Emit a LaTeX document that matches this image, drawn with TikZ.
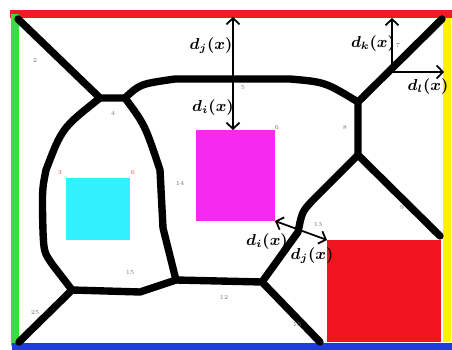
\documentclass[tikz,border=0pt]{standalone}
\usepackage{bm}
\usepackage{tikz}
\usetikzlibrary{arrows.meta,positioning}
\definecolor{wallred}{HTML}{EE1C24}
\definecolor{wallgreen}{HTML}{3CDC3C}
\definecolor{wallyellow}{HTML}{FFF200}
\definecolor{wallblue}{HTML}{1E3CDC}
\definecolor{objcyan}{HTML}{33F0FF}
\definecolor{objmagenta}{HTML}{F52AF0}
\definecolor{objred}{HTML}{F0141E}

\begin{document}
\begin{tikzpicture}[x=0.02cm, y=-0.02cm,
    edge/.style={line width=4.2pt, line join=round, line cap=round},
    wall/.style={line width=4.2pt},
    dist/.style={line width=1pt, >={Straight Barb[length=3.5pt,width=7.5pt]}},
    dlabel/.style={font=\small, inner sep=1pt},
    idx/.style={font=\fontsize{3.5}{4}\selectfont, text=black!55, inner sep=0pt}
]
    \useasboundingbox (0,0) rectangle (452,350);

    % walls of the room
    \draw[wall, wallred] (10,14) -- (452,14);
    \draw[wall, wallgreen] (15,14) -- (15,346);
    \draw[wall, wallyellow] (447,18) -- (447,342);
    \draw[wall, wallblue] (12,347) -- (452,347);

    % obstacles
    \fill[objcyan] (66,178) rectangle (130,240);
    \fill[objmagenta] (196,130) rectangle (275,221);
    \fill[objred] (327,240) rectangle (441,342);

    % voronoi vertices
    \coordinate (tl) at (18,19);
    \coordinate (tr) at (442,19);
    \coordinate (bl) at (19,342);
    \coordinate (br) at (320,342);
    \coordinate (rr) at (440,236);
    \coordinate (a) at (100,98);
    \coordinate (b) at (125,98);
    \coordinate (c) at (358,102);
    \coordinate (d) at (358,155);
    \coordinate (e) at (262,282);
    \coordinate (f) at (176,280);
    \coordinate (g) at (72,290);

    \draw[edge] (tl) -- (a) -- (b);
    \draw[edge] (b) .. controls (140,84) .. (175,79) -- (290,79) .. controls (325,82) .. (c);
    \draw[edge] (c) -- (tr);
    \draw[edge] (c) -- (d) -- (rr);
    \draw[edge] (d) -- (312,201) .. controls (302,212) .. (298,232) -- (e) -- (br);
    \draw[edge] (e) -- (f) -- (140,292) -- (g) -- (bl);
    \draw[edge] (a) .. controls (62,128) .. (46,170) .. controls (42,190) .. (43,232) .. controls (44,252) .. (52,264) -- (g);
    \draw[edge] (b) .. controls (145,125) .. (160,170) -- (163,228) -- (f);

    % distances
    \coordinate (wtop) at (233,17);
    \coordinate (magtop) at (233,130);
    \coordinate (kbase) at (392,72);
    \coordinate (ktop) at (392,18);
    \coordinate (kright) at (444,72);
    \coordinate (magcorner) at (275,221);
    \coordinate (redcorner) at (327,240);

    \draw[dist,<->] (wtop) -- (magtop);
    \draw[dist,->] (kbase) -- (ktop);
    \draw[dist,->] (kbase) -- (kright);
    \draw[dist,<->] (magcorner) -- (redcorner);

    \node[dlabel] (lj) at (211,46) {$\bm{d_j(x)}$};
    \node[dlabel] (li) at (213,108) {$\bm{d_i(x)}$};
    \node[dlabel] (lk) at (373,44) {$\bm{d_k(x)}$};
    \node[dlabel] (ll) at (428,87) {$\bm{d_l(x)}$};
    \node[dlabel] (lbi) at (267,242) {$\bm{d_i(x)}$};
    \node[dlabel] (lbj) at (312,256) {$\bm{d_j(x)}$};

    % region numbers
    \node[idx] (n1) at (35,60) {2};
    \node[idx] (n2) at (113,113) {4};
    \node[idx] (n3) at (243,88) {5};
    \node[idx] (n4) at (277,128) {6};
    \node[idx, text=red!70] (n5) at (60,173) {3};
    \node[idx, text=red!70] (n6) at (133,173) {6};
    \node[idx] (n7) at (180,183) {14};
    \node[idx] (n8) at (130,273) {15};
    \node[idx] (n9) at (224,297) {12};
    \node[idx] (n10) at (318,225) {13};
    \node[idx] (n11) at (345,128) {8};
    \node[idx] (n12) at (398,45) {7};
    \node[idx] (n13) at (402,208) {9};
    \node[idx] (n14) at (297,325) {16};
    \node[idx] (n15) at (35,313) {25};
\end{tikzpicture}
\end{document}
